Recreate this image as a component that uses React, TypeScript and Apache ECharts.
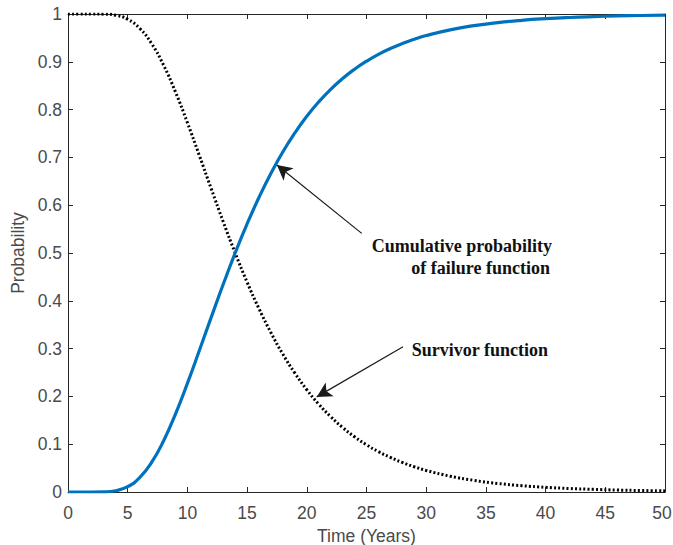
import React, { useEffect, useRef } from "react";
import * as echarts from "echarts";

const years = [0, 1, 2, 3, 4, 5, 6, 7, 8, 9, 10, 11, 12, 13, 14, 15, 16, 17, 18, 19, 20, 21, 22, 23, 24, 25, 26, 27, 28, 29, 30, 32, 34, 36, 38, 40, 42, 44, 46, 48, 50];
const cumulative = [0, 0, 0, 0.0003, 0.0027, 0.0111, 0.0299, 0.0618, 0.1068, 0.1631, 0.2273, 0.296, 0.3658, 0.4345, 0.5, 0.561, 0.6166, 0.6669, 0.7119, 0.7512, 0.7861, 0.8162, 0.8423, 0.865, 0.8845, 0.9012, 0.9156, 0.9277, 0.9382, 0.9472, 0.9549, 0.9669, 0.9757, 0.9821, 0.9868, 0.9902, 0.9927, 0.9945, 0.9959, 0.9969, 0.9977];
const survivor = [1, 1, 1, 0.9997, 0.9973, 0.9889, 0.9701, 0.9382, 0.8932, 0.8369, 0.7727, 0.704, 0.6342, 0.5655, 0.5, 0.439, 0.3834, 0.3331, 0.2881, 0.2488, 0.2139, 0.1838, 0.1577, 0.135, 0.1155, 0.0988, 0.0844, 0.0723, 0.0618, 0.0528, 0.0451, 0.0331, 0.0243, 0.0179, 0.0132, 0.0098, 0.0073, 0.0055, 0.0041, 0.0031, 0.0023];
const xTicks = [0, 5, 10, 15, 20, 25, 30, 35, 40, 45, 50];
const yTicks = [0, 0.1, 0.2, 0.3, 0.4, 0.5, 0.6, 0.7, 0.8, 0.9, 1];

const cumArrow = { from: [24.6, 0.541], to: [17.5, 0.684] };
const survArrow = { from: [28.06, 0.304], to: [20.83, 0.199] };
const cumLabelLines = ["Cumulative probability", "of failure function"];
const survLabel = "Survivor function";

export default function App() {
  const ref = useRef<HTMLDivElement>(null);
  useEffect(() => {
    if (!ref.current) return;
    const chart = echarts.init(ref.current, null, { renderer: "svg" });
    const axisColor = "#262626";
    const labelStyle = { color: "#4a4a4a", fontFamily: "Liberation Sans, Arial, sans-serif", fontSize: 17.5 };
    const xMin = xTicks[0], xMax = xTicks[xTicks.length - 1];
    const yMin = yTicks[0], yMax = yTicks[yTicks.length - 1];
    const axisLine = { show: true, onZero: false, lineStyle: { color: axisColor, width: 1 } };
    const tick = { show: true, inside: true, length: 5, lineStyle: { color: axisColor, width: 1 } };
    const arrowLine = (a: { from: number[]; to: number[] }) => ({
      silent: true,
      symbol: ["none", "arrow"],
      symbolSize: [12, 15],
      label: { show: false },
      lineStyle: { color: "#1a1a1a", width: 1.2, type: "solid" },
      data: [[{ coord: a.from }, { coord: a.to }]],
    });
    const annot = {
      fontFamily: "Liberation Serif, Times New Roman, serif",
      fontWeight: "bold", fontSize: 18, fill: "#111",
      align: "right", verticalAlign: "middle",
    };
    chart.setOption({
      animation: false,
      backgroundColor: "#ffffff",
      grid: { left: 68, right: 8, top: 14, bottom: 53, containLabel: false, outerBoundsMode: "none" },
      xAxis: [
        {
          type: "value", min: xMin, max: xMax, interval: 5,
          position: "bottom",
          axisLine, axisTick: tick,
          splitLine: { show: false },
          name: "Time (Years)",
          nameLocation: "middle",
          nameGap: 33,
          nameTextStyle: { ...labelStyle },
          axisLabel: {
            ...labelStyle, margin: 12,
            formatter: (v: number) => (v === xMax ? `{last|${v}}` : String(v)),
            rich: { last: { ...labelStyle, padding: [0, 6, 0, 0] } },
          },
        },
        {
          type: "value", min: xMin, max: xMax, interval: 5,
          position: "top",
          axisLine, axisTick: tick,
          splitLine: { show: false },
          axisLabel: { show: false },
        },
      ],
      yAxis: [
        {
          type: "value", min: yMin, max: yMax, interval: 0.1,
          position: "left",
          axisLine, axisTick: tick,
          splitLine: { show: false },
          name: "Probability",
          nameLocation: "middle",
          nameGap: 34,
          nameTextStyle: { ...labelStyle },
          axisLabel: { ...labelStyle, margin: 6, formatter: (v: number) => String(Math.round(v * 10) / 10) },
        },
        {
          type: "value", min: yMin, max: yMax, interval: 0.1,
          position: "right",
          axisLine, axisTick: tick,
          splitLine: { show: false },
          axisLabel: { show: false },
        },
      ],
      series: [
        {
          name: "Cumulative probability of failure function",
          type: "line",
          smooth: true,
          showSymbol: false,
          data: years.map((t, i) => [t, cumulative[i]]),
          lineStyle: { color: "#0072BD", width: 3.2 },
          markLine: arrowLine(cumArrow),
          z: 3,
        },
        {
          name: "Survivor function",
          type: "line",
          smooth: true,
          showSymbol: false,
          data: years.map((t, i) => [t, survivor[i]]),
          lineStyle: { color: "#000000", width: 3, type: [2, 2.2] },
          markLine: arrowLine(survArrow),
          z: 2,
        },
      ],
      graphic: [
        { type: "text", x: 552, y: 246, style: { ...annot, text: cumLabelLines[0] } },
        { type: "text", x: 550, y: 268, style: { ...annot, text: cumLabelLines[1] } },
        { type: "text", x: 548, y: 350, style: { ...annot, text: survLabel } },
      ],
    });
    return () => chart.dispose();
  }, []);
  return <div ref={ref} style={{ width: 673, height: 545, position: "absolute", left: 0, top: 0 }} />;
}
